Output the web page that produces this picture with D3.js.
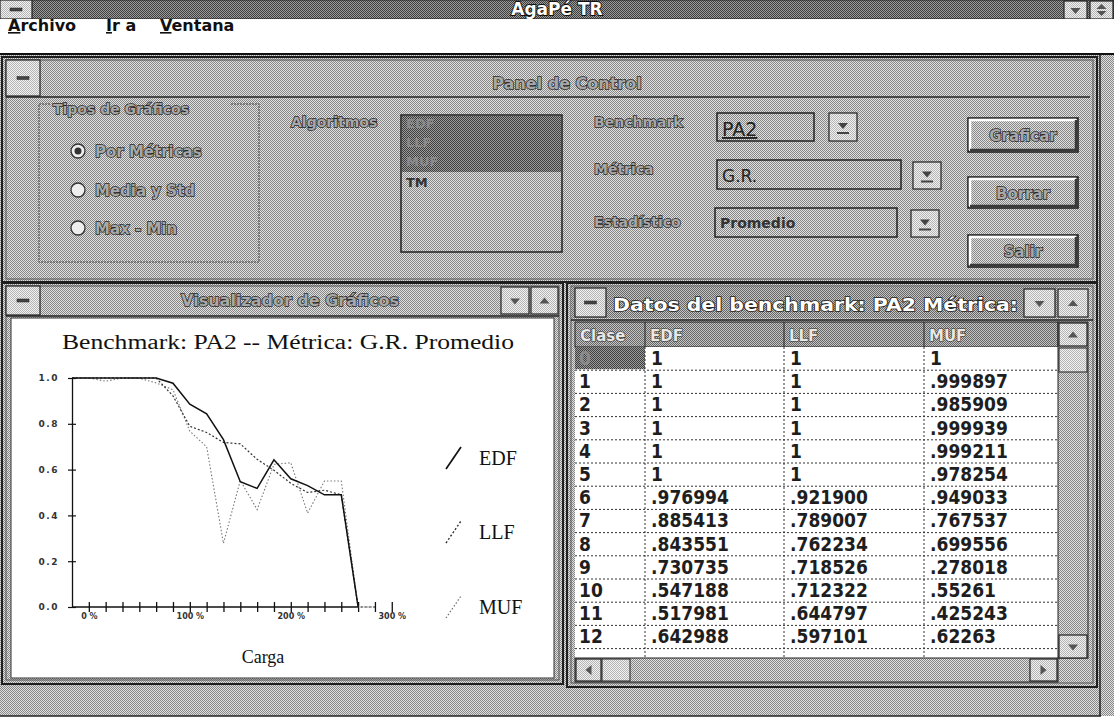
<!DOCTYPE html>
<html><head><meta charset="utf-8">
<script src="https://cdn.jsdelivr.net/npm/d3@7"></script>
<style>html,body{margin:0;padding:0;background:#fff;}svg{display:block}</style>
</head><body>
<script>
// ---------------- DATA ----------------
const classes   = [0,1,2,3,4,5,6,7,8,9,10,11,12,13,14,15,16,17,18];
const edfValues = [1,1,1,1,1,1,0.976994,0.885413,0.843551,0.730735,0.547188,0.517981,0.642988,0.56,0.53,0.49,0.49,0];
const llfValues = [1,1,1,1,1,1,0.9219,0.789007,0.762234,0.718526,0.712322,0.644797,0.597101,0.54,0.50,0.51,0.49,0,0];
const mufValues = [1,0.999897,0.985909,0.999939,0.999211,0.978254,0.949033,0.767537,0.699556,0.278018,0.55261,0.425243,0.62263,0.63,0.41,0.55,0.55,0,0];
const seriesNames = ["EDF","LLF","MUF"];
const yTickValues = [0,0.2,0.4,0.6,0.8,1.0];
const xTickClasses = [1,2,3,4,5,6,7,8,9,10,11,12,13,14,15,16,17,18,19];
const xTickLabels  = {1:"0 %",7:"100 %",13:"200 %",19:"300 %"};
const chartTitle = "Benchmark:  PA2  -- Métrica: G.R. Promedio";
const xAxisTitle = "Carga";

const tableHeader = ["Clase","EDF","LLF","MUF"];
const tableClase  = ["0","1","2","3","4","5","6","7","8","9","10","11","12"];
const tableEDF    = ["1","1","1","1","1","1",".976994",".885413",".843551",".730735",".547188",".517981",".642988"];
const tableLLF    = ["1","1","1","1","1","1",".921900",".789007",".762234",".718526",".712322",".644797",".597101"];
const tableMUF    = ["1",".999897",".985909",".999939",".999211",".978254",".949033",".767537",".699556",".278018",".55261",".425243",".62263"];

const menuItems = ["Archivo","Ir a","Ventana"];
const algoritmos = ["EDF","LLF","MUF","TM"];
const radioLabels = ["Por Métricas","Media y Std","Max - Min"];

// ---------------- SETUP ----------------
const W = 1114, H = 721;
const svg = d3.select("body").append("svg").attr("width", W).attr("height", H);
const defs = svg.append("defs");
function pat(id, a, b) {
  const p = defs.append("pattern").attr("id", id).attr("width", 2).attr("height", 2)
    .attr("patternUnits", "userSpaceOnUse");
  p.append("rect").attr("width", 2).attr("height", 2).attr("fill", a);
  p.append("rect").attr("width", 1).attr("height", 1).attr("fill", b);
  p.append("rect").attr("x", 1).attr("y", 1).attr("width", 1).attr("height", 1).attr("fill", b);
}
pat("chk", "#e0e0e0", "#878787");
pat("chkMid", "#c4c4c4", "#666");
pat("chkDark", "#9c9c9c", "#3e3e3e");
pat("chkLite", "#f2f2f2", "#b4b4b4");

const SANS = "'DejaVu Sans', Verdana, sans-serif";
const COND = "'DejaVu Sans Condensed', 'DejaVu Sans', sans-serif";
const SERIF = "'Liberation Serif', 'DejaVu Serif', serif";

function rect(g, x, y, w, h, fill, stroke, sw) {
  return g.append("rect").attr("x", x).attr("y", y).attr("width", w).attr("height", h)
    .attr("fill", fill || "none").attr("stroke", stroke || "none").attr("stroke-width", sw || 1);
}
function txt(g, x, y, s, o) {
  o = o || {};
  const t = g.append("text").attr("x", x).attr("y", y).text(s)
    .attr("font-family", o.family || SANS).attr("font-size", o.size || 14)
    .attr("font-weight", o.weight || "bold").attr("fill", o.fill || "#222")
    .attr("text-anchor", o.anchor || "start");
  if (o.stroke) t.attr("stroke", o.stroke).attr("stroke-width", o.sw || 1).attr("paint-order", "stroke");
  if (o.len) t.attr("textLength", o.len).attr("lengthAdjust", "spacingAndGlyphs");
  return t;
}
const emboss = {fill: "#a8a8a8", stroke: "#262626", sw: 1.5};
function bevel(g, x, y, w, h) {
  rect(g, x, y, w, h, "url(#chk)", "#1a1a1a", 1.5);
  g.append("path").attr("d", `M${x+2},${y+h-2}V${y+2}H${x+w-2}`).attr("stroke", "#fff").attr("stroke-width", 2.5).attr("fill", "none");
  g.append("path").attr("d", `M${x+2},${y+h-2}H${x+w-2}V${y+2}`).attr("stroke", "#3a3a3a").attr("stroke-width", 2.5).attr("fill", "none");
}
function sysBox(g, x, y, w, h) {
  rect(g, x, y, w, h, "url(#chkLite)", "#222", 1.2);
  rect(g, x + w/2 - 6, y + h/2 - 1.5, 12, 3, "#444", "#222", 0.5);
}
function arrowBtn(g, x, y, w, h, dir) {
  rect(g, x, y, w, h, "url(#chkLite)", "#222", 1.2);
  const cx = x + w/2, cy = y + h/2;
  if (dir === "down") g.append("path").attr("d", `M${cx-5},${cy-2}L${cx+5},${cy-2}L${cx},${cy+4}Z`).attr("fill", "#555");
  else if (dir === "up") g.append("path").attr("d", `M${cx-5},${cy+3}L${cx+5},${cy+3}L${cx},${cy-3}Z`).attr("fill", "#555");
  else if (dir === "updown") {
    g.append("path").attr("d", `M${cx-5},${cy-1}L${cx+5},${cy-1}L${cx},${cy-6}Z`).attr("fill", "#555");
    g.append("path").attr("d", `M${cx-5},${cy+1}L${cx+5},${cy+1}L${cx},${cy+6}Z`).attr("fill", "#555");
  } else if (dir === "left") g.append("path").attr("d", `M${cx+3},${cy-5}L${cx+3},${cy+5}L${cx-3},${cy}Z`).attr("fill", "#555");
  else if (dir === "right") g.append("path").attr("d", `M${cx-3},${cy-5}L${cx-3},${cy+5}L${cx+3},${cy}Z`).attr("fill", "#555");
  else if (dir === "combo") {
    g.append("path").attr("d", `M${cx-5},${cy-4}L${cx+5},${cy-4}L${cx},${cy+2}Z`).attr("fill", "#444");
    rect(g, cx - 6, cy + 5, 12, 2, "#444");
  }
}

// ---------------- APP FRAME ----------------
const app = svg.append("g");
rect(app, 0, 0, W, 716, "url(#chk)");
// title bar
rect(app, 0, 0, W, 19, "url(#chkDark)", "#222", 1);
sysBox(app, 0, 0, 32, 19);
txt(app, 557, 15, "AgaPé TR", {size: 17, fill: "#fff", stroke: "#111", sw: 1.8, anchor: "middle"});
arrowBtn(app, 1064, 1, 23, 18, "down");
arrowBtn(app, 1090, 1, 23, 18, "updown");
// menu bar
rect(app, 0, 19, W, 35, "#fff");
app.append("line").attr("x1", 0).attr("x2", W).attr("y1", 54).attr("y2", 54).attr("stroke", "#111").attr("stroke-width", 2);
const menuX = [8, 106, 160];
menuItems.forEach((m, i) => {
  const t = txt(app, menuX[i], 31, "", {size: 16, fill: "#111", weight: "bold"});
  t.append("tspan").attr("text-decoration", "underline").text(m[0]);
  t.append("tspan").text(m.slice(1));
});
app.append("line").attr("x1", 1100).attr("x2", 1100).attr("y1", 55).attr("y2", 716).attr("stroke", "#222").attr("stroke-width", 1.5);
app.append("line").attr("x1", 0).attr("x2", 1101).attr("y1", 716).attr("y2", 716).attr("stroke", "#222").attr("stroke-width", 1.5);

// ---------------- PANEL DE CONTROL ----------------
const pan = svg.append("g");
rect(pan, 2, 57, 1095, 225, "url(#chk)", "#1e1e1e", 2);
rect(pan, 6, 60, 1087, 219, "none", "#555", 1);
sysBox(pan, 6, 60, 34, 36);
txt(pan, 567, 89, "Panel de Control", Object.assign({size: 16, anchor: "middle"}, emboss));
pan.append("line").attr("x1", 6).attr("x2", 1090).attr("y1", 97).attr("y2", 97).attr("stroke", "#222").attr("stroke-width", 1.5);

// group box
rect(pan, 39, 104, 220, 158, "none", "#444", 1).attr("stroke-dasharray", "2,1");
rect(pan, 50, 100, 180, 16, "url(#chk)");
txt(pan, 53, 114, "Tipos de Gráficos", Object.assign({size: 14}, emboss));
const radioY = [151, 190, 228];
radioLabels.forEach((r, i) => {
  pan.append("circle").attr("cx", 78).attr("cy", radioY[i]).attr("r", 7).attr("fill", "#eee").attr("stroke", "#333").attr("stroke-width", 1.3);
  if (i === 0) pan.append("circle").attr("cx", 78).attr("cy", radioY[i]).attr("r", 3.5).attr("fill", "#333");
  txt(pan, 95, radioY[i] + 6, r, Object.assign({size: 15}, emboss));
});

// algoritmos list
txt(pan, 291, 127, "Algoritmos", Object.assign({size: 14}, emboss));
rect(pan, 401, 115, 161, 137, "url(#chk)", "#222", 1.5);
rect(pan, 402, 116, 159, 56, "url(#chkDark)");
const algY = [128, 147, 166, 187];
algoritmos.forEach((a, i) => {
  txt(pan, 406, algY[i], a, i < 3 ? {size: 13, fill: "#8a8a8a"} : {size: 13, fill: "#333"});
});

// benchmark / metrica / estadistico
txt(pan, 594, 127, "Benchmark", Object.assign({size: 14}, emboss));
txt(pan, 594, 174, "Métrica", Object.assign({size: 14}, emboss));
txt(pan, 594, 227, "Estadístico", Object.assign({size: 14}, emboss));
rect(pan, 717, 113, 97, 28, "url(#chk)", "#222", 1.5);
txt(pan, 722, 136, "PA2", {size: 19, weight: "normal", fill: "#222"}).attr("text-decoration", "underline");
arrowBtn(pan, 829, 113, 28, 28, "combo");
rect(pan, 717, 160, 184, 29, "url(#chk)", "#222", 1.5);
txt(pan, 722, 182, "G.R.", {size: 17, weight: "normal", fill: "#222"});
arrowBtn(pan, 913, 162, 28, 27, "combo");
rect(pan, 715, 208, 182, 29, "url(#chk)", "#222", 1.5);
txt(pan, 720, 228, "Promedio", {size: 14, fill: "#333"});
arrowBtn(pan, 911, 210, 28, 27, "combo");

// buttons
[["Graficar", 118, 34], ["Borrar", 177, 31], ["Salir", 235, 32]].forEach(([lab, y, h]) => {
  bevel(pan, 968, y, 110, h);
  txt(pan, 1023, y + h/2 + 6, lab, Object.assign({size: 15, anchor: "middle"}, emboss));
});

// ---------------- VISUALIZADOR ----------------
const viz = svg.append("g");
rect(viz, 2, 283, 561, 401, "url(#chk)", "#1e1e1e", 2);
rect(viz, 6, 286, 553, 394, "none", "#555", 1);
sysBox(viz, 6, 286, 34, 29);
txt(viz, 290, 306, "Visualizador de Gráficos", Object.assign({size: 16, anchor: "middle"}, emboss));
arrowBtn(viz, 501, 287, 28, 27, "down");
arrowBtn(viz, 531, 287, 27, 27, "up");
viz.append("line").attr("x1", 6).attr("x2", 559).attr("y1", 316).attr("y2", 316).attr("stroke", "#222").attr("stroke-width", 1.5);
rect(viz, 11, 318, 543, 360, "#fff", "#333", 1);

// chart
txt(viz, 62, 349, chartTitle, {family: SERIF, size: 20, weight: "normal", fill: "#111", len: 452});
const x = d3.scaleLinear().domain([0, 19]).range([72, 72 + 19 * 16.83]);
const y = d3.scaleLinear().domain([0, 1]).range([607, 378]);

const yAxis = d3.axisLeft(y).tickValues(yTickValues).tickSizeInner(4).tickSizeOuter(0).tickPadding(9)
  .tickFormat(d3.format(".1f"));
const gy = viz.append("g").attr("transform", `translate(${x(0)},0)`).call(yAxis);
gy.select(".domain").attr("stroke", "#111").attr("stroke-width", 1.3);
gy.selectAll(".tick line").attr("x1", 4).attr("stroke", "#111").attr("stroke-width", 1.2);
gy.selectAll(".tick text").attr("font-family", SANS).attr("font-size", 9).attr("font-weight", "bold")
  .attr("fill", "#333").attr("letter-spacing", 1.5);

const xAxis = d3.axisBottom(x).tickValues(xTickClasses).tickSizeInner(5).tickSizeOuter(0).tickPadding(1)
  .tickFormat(d => xTickLabels[d] || "");
const gx = viz.append("g").attr("transform", `translate(0,${y(0)})`).call(xAxis);
gx.select(".domain").remove();
gx.selectAll(".tick line").attr("y1", -5).attr("stroke", "#111").attr("stroke-width", 1.3);
gx.selectAll(".tick text").attr("font-family", SANS).attr("font-size", 8).attr("font-weight", "bold").attr("fill", "#333");
viz.append("line").attr("x1", x(0)).attr("x2", x(17)).attr("y1", y(0)).attr("y2", y(0)).attr("stroke", "#111").attr("stroke-width", 1.4);

const line = d3.line().x((d, i) => x(classes[i])).y(d => y(d));
const styles = {
  EDF: {stroke: "#111", width: 1.5, dash: null},
  LLF: {stroke: "#333", width: 1.2, dash: "2,2"},
  MUF: {stroke: "#777", width: 1.1, dash: "1.5,2"}
};
const seriesData = {EDF: edfValues, LLF: llfValues, MUF: mufValues};
["MUF", "LLF", "EDF"].forEach(n => {
  const p = viz.append("path").datum(seriesData[n]).attr("d", line).attr("fill", "none")
    .attr("stroke", styles[n].stroke).attr("stroke-width", styles[n].width);
  if (styles[n].dash) p.attr("stroke-dasharray", styles[n].dash);
});

// legend
const legY = [458, 532, 607];
seriesNames.forEach((n, i) => {
  const l = viz.append("line").attr("x1", 446).attr("y1", legY[i] + 11).attr("x2", 461).attr("y2", legY[i] - 11)
    .attr("stroke", styles[n].stroke).attr("stroke-width", styles[n].width + 0.2);
  if (styles[n].dash) l.attr("stroke-dasharray", styles[n].dash);
  txt(viz, 479, legY[i] + 7, n, {family: SERIF, size: 20, weight: "normal", fill: "#111"});
});
txt(viz, 263, 663, xAxisTitle, {family: SERIF, size: 18, weight: "normal", fill: "#111", anchor: "middle"});

// ---------------- TABLA ----------------
const tab = svg.append("g");
rect(tab, 567, 283, 530, 404, "url(#chk)", "#1e1e1e", 2);
rect(tab, 571, 286, 522, 397, "none", "#555", 1);
rect(tab, 571, 287, 486, 31, "url(#chkMid)");
sysBox(tab, 575, 288, 31, 29);
txt(tab, 613, 311, "Datos del benchmark: PA2  Métrica:", {size: 17, fill: "#fff", stroke: "#222", sw: 1.6, len: 405});
arrowBtn(tab, 1024, 289, 31, 28, "down");
arrowBtn(tab, 1058, 289, 30, 28, "up");
tab.append("line").attr("x1", 571).attr("x2", 1093).attr("y1", 320).attr("y2", 320).attr("stroke", "#222").attr("stroke-width", 1.5);

const colX = [575, 645, 784, 924, 1058];
const rowTop = 347, rowH = 23.2, gridBottom = 658;
// header
rect(tab, colX[0], 322, colX[4] - colX[0], rowTop - 322, "url(#chkMid)", "#222", 1);
tableHeader.forEach((h, i) => {
  txt(tab, colX[i] + 5, 341, h, {size: 15, fill: "#e8e8e8", stroke: "#333", sw: 1.2});
  if (i > 0) tab.append("line").attr("x1", colX[i]).attr("x2", colX[i]).attr("y1", 322).attr("y2", rowTop).attr("stroke", "#222");
});
// body
defs.append("clipPath").attr("id", "gridClip").append("rect").attr("x", colX[0]).attr("y", rowTop).attr("width", colX[4] - colX[0]).attr("height", gridBottom - rowTop);
const body = tab.append("g").attr("clip-path", "url(#gridClip)");
rect(body, colX[0], rowTop, colX[4] - colX[0], gridBottom - rowTop, "#fff");
rect(body, colX[0], rowTop, colX[1] - colX[0], rowH - 1, "url(#chkDark)");
const cols = [tableClase, tableEDF, tableLLF, tableMUF];
tableClase.forEach((c, r) => {
  const cy = rowTop + r * rowH;
  body.append("line").attr("x1", colX[0]).attr("x2", colX[4]).attr("y1", cy + rowH).attr("y2", cy + rowH)
    .attr("stroke", "#333").attr("stroke-dasharray", "2,2");
  cols.forEach((col, ci) => {
    const isSel = (ci === 0 && r === 0);
    txt(body, colX[ci] + (ci === 0 ? 4 : 6), cy + 18, col[r],
      {family: COND, size: 19, weight: "bold", fill: isSel ? "#8a8a8a" : "#1e1e1e"});
  });
});
[1, 2, 3].forEach(i => body.append("line").attr("x1", colX[i]).attr("x2", colX[i]).attr("y1", rowTop).attr("y2", gridBottom)
  .attr("stroke", "#333").attr("stroke-dasharray", "2,2"));
// scrollbars
rect(tab, colX[4], 322, 30, gridBottom - 322, "url(#chk)", "#222", 1);
arrowBtn(tab, colX[4] + 1, 323, 28, 23, "up");
rect(tab, colX[4] + 1, 348, 28, 24, "url(#chkLite)", "#222", 1);
arrowBtn(tab, colX[4] + 1, 635, 28, 23, "down");
rect(tab, colX[0], gridBottom, colX[4] - colX[0], 24, "url(#chk)", "#222", 1);
arrowBtn(tab, colX[0] + 1, gridBottom + 1, 25, 22, "left");
rect(tab, colX[0] + 27, gridBottom + 1, 28, 22, "url(#chkLite)", "#222", 1);
arrowBtn(tab, 1030, gridBottom + 1, 27, 22, "right");
</script>
</body></html>
